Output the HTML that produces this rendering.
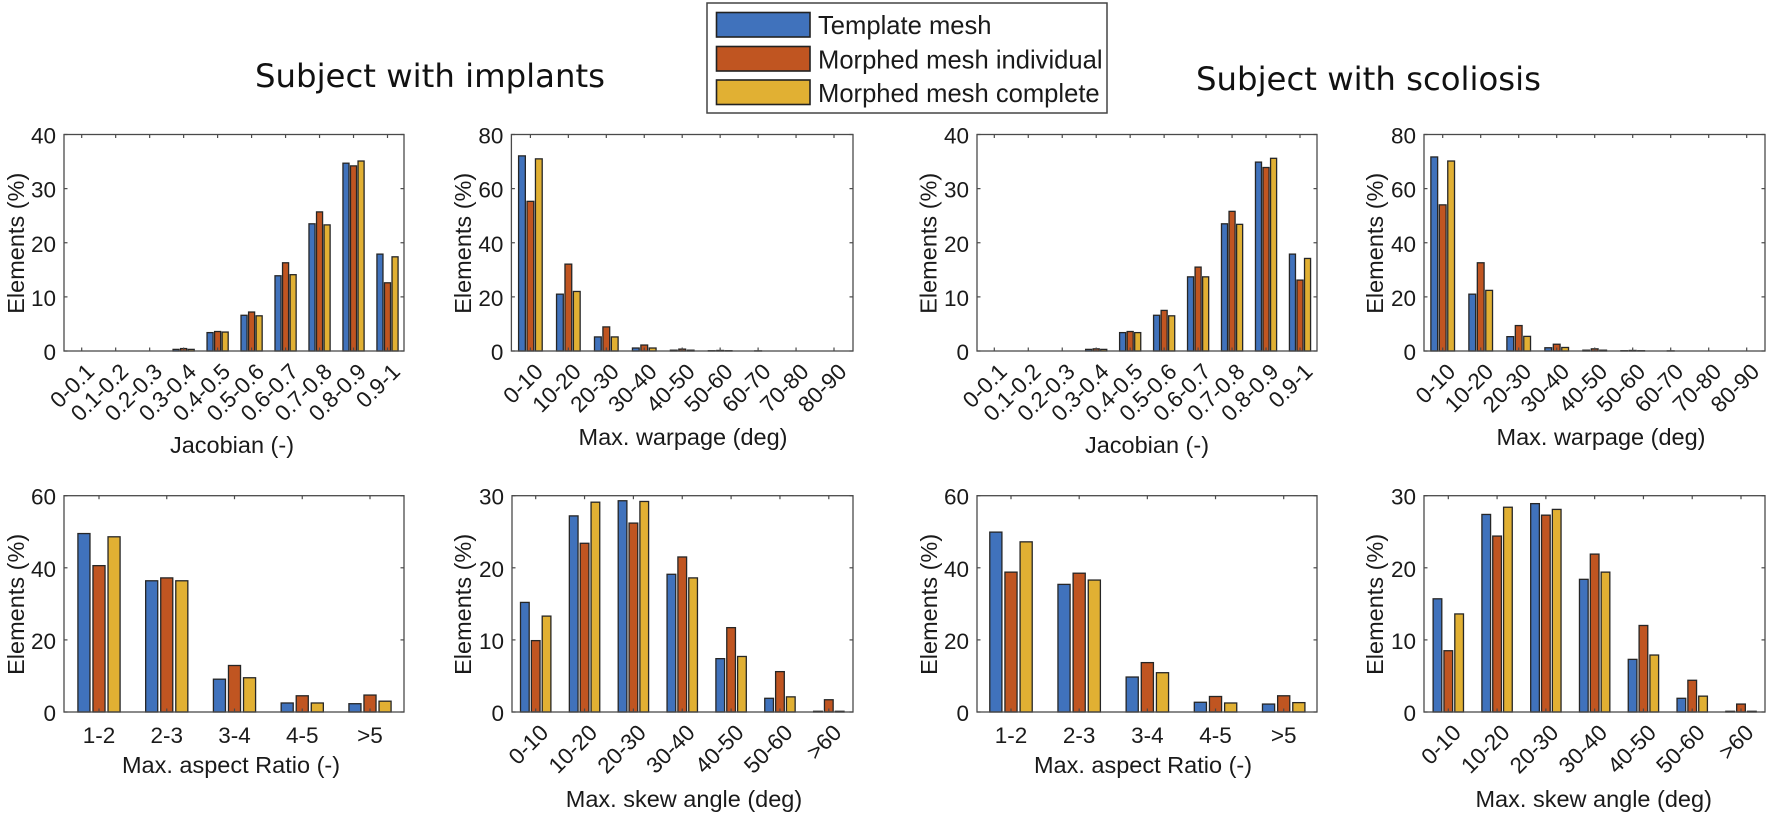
<!DOCTYPE html>
<html lang="en">
<head>
<meta charset="utf-8">
<title>Mesh quality histograms</title>
<style>
html,body{margin:0;padding:0;background:#fff}
svg{display:block;filter:blur(0.35px)}
text{font-family:"Liberation Sans",Arial,sans-serif;fill:#1a1a1a}
.title{font-family:"DejaVu Sans",sans-serif;fill:#111}
</style>
</head>
<body>
<svg id="chart" xmlns="http://www.w3.org/2000/svg" width="1772" height="815" viewBox="0 0 1772 815">
  <rect x="0" y="0" width="1772" height="815" fill="#fff"/>
  <text class="title" x="255" y="87" font-size="32" textLength="350" lengthAdjust="spacingAndGlyphs">Subject with implants</text>
  <text class="title" x="1196" y="90" font-size="32" textLength="345" lengthAdjust="spacingAndGlyphs">Subject with scoliosis</text>
  <g>
    <rect x="707" y="3" width="400" height="110" fill="#fff" stroke="#444" stroke-width="1.5"/>
    <rect x="716.5" y="12.5" width="93.5" height="24.5" fill="#4072BC" stroke="#222" stroke-width="1.6"/>
    <rect x="716.5" y="46.5" width="93.5" height="24.5" fill="#C05521" stroke="#222" stroke-width="1.6"/>
    <rect x="716.5" y="80" width="93.5" height="24.5" fill="#E1B033" stroke="#222" stroke-width="1.6"/>
    <text x="818" y="34" font-size="25.6">Template mesh</text>
    <text x="818" y="68.5" font-size="25.6">Morphed mesh individual</text>
    <text x="818" y="102" font-size="25.6">Morphed mesh complete</text>
  </g>
</svg>
<script>
var jacobianCategories = ['0-0.1','0.1-0.2','0.2-0.3','0.3-0.4','0.4-0.5','0.5-0.6','0.6-0.7','0.7-0.8','0.8-0.9','0.9-1'];
var warpageCategories = ['0-10','10-20','20-30','30-40','40-50','50-60','60-70','70-80','80-90'];
var aspectCategories = ['1-2','2-3','3-4','4-5','>5'];
var skewCategories = ['0-10','10-20','20-30','30-40','40-50','50-60','>60'];

var ticks40 = [0,10,20,30,40];
var ticks80 = [0,20,40,60,80];
var ticks60 = [0,20,40,60];
var ticks30 = [0,10,20,30];

var implantsJacobianTemplate = [0,0,0,0.3,3.4,6.6,13.9,23.5,34.7,17.9];
var implantsJacobianIndividual = [0,0,0,0.45,3.6,7.2,16.3,25.7,34.2,12.6];
var implantsJacobianComplete = [0,0,0,0.3,3.5,6.5,14.1,23.3,35.1,17.4];

var implantsWarpageTemplate = [72.1,21,5.2,1.1,0.3,0.1,0,0,0];
var implantsWarpageIndividual = [55.3,32.1,8.9,2.2,0.7,0.2,0.05,0,0];
var implantsWarpageComplete = [71,22,5.2,1.1,0.3,0.1,0,0,0];

var scoliosisJacobianTemplate = [0,0,0,0.3,3.4,6.6,13.7,23.5,34.9,17.9];
var scoliosisJacobianIndividual = [0,0,0,0.4,3.6,7.5,15.5,25.8,33.9,13.1];
var scoliosisJacobianComplete = [0,0,0,0.3,3.4,6.5,13.7,23.4,35.6,17.1];

var scoliosisWarpageTemplate = [71.7,21,5.3,1.2,0.3,0.1,0,0,0];
var scoliosisWarpageIndividual = [54,32.6,9.4,2.5,0.8,0.2,0.05,0,0];
var scoliosisWarpageComplete = [70.2,22.4,5.4,1.3,0.3,0.1,0,0,0];

var implantsAspectTemplate = [49.5,36.4,9.1,2.5,2.3];
var implantsAspectIndividual = [40.6,37.2,12.9,4.5,4.7];
var implantsAspectComplete = [48.6,36.4,9.5,2.5,3];

var implantsSkewTemplate = [15.2,27.2,29.3,19.1,7.4,1.9,0.1];
var implantsSkewIndividual = [9.9,23.4,26.2,21.5,11.7,5.6,1.7];
var implantsSkewComplete = [13.3,29.1,29.2,18.6,7.7,2.1,0.1];

var scoliosisAspectTemplate = [49.9,35.4,9.7,2.7,2.2];
var scoliosisAspectIndividual = [38.8,38.5,13.7,4.3,4.5];
var scoliosisAspectComplete = [47.2,36.6,10.9,2.5,2.6];

var scoliosisSkewTemplate = [15.7,27.4,28.9,18.4,7.3,1.9,0.1];
var scoliosisSkewIndividual = [8.5,24.4,27.3,21.9,12,4.4,1.1];
var scoliosisSkewComplete = [13.6,28.4,28.1,19.4,7.9,2.2,0.1];

var seriesColors = ['#4072BC','#C05521','#E1B033'];
var seriesNames = ['template','individual','complete'];

var NS = 'http://www.w3.org/2000/svg';
var root = document.getElementById('chart');

function make(parent, tag, attrs, txt) {
  var el = document.createElementNS(NS, tag);
  for (var k in attrs) { el.setAttribute(k, attrs[k]); }
  if (txt !== undefined) { el.textContent = txt; }
  parent.appendChild(el);
  return el;
}

function drawPanel(p) {
  var g = make(root, 'g', {});
  
  

  var n = p.categories.length;
  var maxY = p.yTicks[p.yTicks.length - 1];
  var step = (p.lastTick - p.firstTick) / (n - 1);
  function xScale(i) { return p.firstTick + i * step; }
  function yScale(v) { return p.bottom - (v / maxY) * (p.bottom - p.top); }

  var barW = step * 0.178;
  var offset = step * 0.2222;

  p.series.forEach(function (vals, s) {
    vals.forEach(function (v, i) {
      var y = yScale(v);
      var cx = xScale(i) + (s - 1) * offset;
      var bar = make(g, 'rect', {
        x: cx - barW / 2, y: y, width: barW, height: Math.max(p.bottom - y, 0),
        fill: seriesColors[s], stroke: '#262626', 'stroke-width': 1.3
      });
      
      
    });
  });

  var frame = make(g, 'rect', {
    x: p.left, y: p.top, width: p.right - p.left, height: p.bottom - p.top,
    fill: 'none', stroke: '#4a4a4a', 'stroke-width': 1.3
  });
  
  

  p.yTicks.forEach(function (t) {
    var y = yScale(t);
    var a = make(g, 'line', {x1: p.left, x2: p.left + 3.5, y1: y, y2: y, stroke: '#4a4a4a', 'stroke-width': 1.2});
    
    
    var b = make(g, 'line', {x1: p.right, x2: p.right - 3.5, y1: y, y2: y, stroke: '#4a4a4a', 'stroke-width': 1.2});
    
    
    var lab = make(g, 'text', {x: p.left - 8, y: y + 9, 'text-anchor': 'end', 'font-size': 22.5}, String(t));
    
    
  });

  p.categories.forEach(function (c, i) {
    var x = xScale(i);
    var a = make(g, 'line', {x1: x, x2: x, y1: p.bottom, y2: p.bottom - 3.5, stroke: '#4a4a4a', 'stroke-width': 1.2});
    
    
    var b = make(g, 'line', {x1: x, x2: x, y1: p.top, y2: p.top + 3.5, stroke: '#4a4a4a', 'stroke-width': 1.2});
    
    
    var lab;
    if (p.rotated) {
      var lx = x + 14, ly = p.bottom + 22;
      lab = make(g, 'text', {x: lx, y: ly, 'text-anchor': 'end', 'font-size': 22.5, transform: 'rotate(-45 ' + lx + ' ' + ly + ')'}, c);
    } else {
      lab = make(g, 'text', {x: x, y: p.bottom + 31, 'text-anchor': 'middle', 'font-size': 22.5}, c);
    }
    
    
  });

  var cy = (p.top + p.bottom) / 2 + 0.5;
  var yl = make(g, 'text', {
    x: p.yLabelX, y: cy, 'text-anchor': 'middle', 'font-size': 23.5,
    transform: 'rotate(-90 ' + p.yLabelX + ' ' + cy + ')'
  }, 'Elements (%)');
  
  

  var xl = make(g, 'text', {x: p.xLabelX, y: p.xLabelY, 'text-anchor': 'middle', 'font-size': 23.5}, p.xLabel);
  
  
}

drawPanel({name:'panel-implants-jacobian', left:64, right:404, top:134.5, bottom:351, firstTick:81.7, lastTick:387.5,
  categories:jacobianCategories, yTicks:ticks40, rotated:true, yLabelX:24, xLabel:'Jacobian (-)', xLabelX:232, xLabelY:453,
  series:[implantsJacobianTemplate, implantsJacobianIndividual, implantsJacobianComplete]});
drawPanel({name:'panel-implants-warpage', left:511.4, right:853, top:134.5, bottom:351, firstTick:530.4, lastTick:834,
  categories:warpageCategories, yTicks:ticks80, rotated:true, yLabelX:471, xLabel:'Max. warpage (deg)', xLabelX:683, xLabelY:445,
  series:[implantsWarpageTemplate, implantsWarpageIndividual, implantsWarpageComplete]});
drawPanel({name:'panel-scoliosis-jacobian', left:977, right:1317, top:134.5, bottom:351, firstTick:994.3, lastTick:1300,
  categories:jacobianCategories, yTicks:ticks40, rotated:true, yLabelX:936.5, xLabel:'Jacobian (-)', xLabelX:1147, xLabelY:453,
  series:[scoliosisJacobianTemplate, scoliosisJacobianIndividual, scoliosisJacobianComplete]});
drawPanel({name:'panel-scoliosis-warpage', left:1424, right:1765, top:134.5, bottom:351, firstTick:1442.7, lastTick:1746.7,
  categories:warpageCategories, yTicks:ticks80, rotated:true, yLabelX:1383, xLabel:'Max. warpage (deg)', xLabelX:1601, xLabelY:445,
  series:[scoliosisWarpageTemplate, scoliosisWarpageIndividual, scoliosisWarpageComplete]});
drawPanel({name:'panel-implants-aspect', left:64, right:404, top:495.7, bottom:712, firstTick:99, lastTick:370,
  categories:aspectCategories, yTicks:ticks60, rotated:false, yLabelX:24, xLabel:'Max. aspect Ratio (-)', xLabelX:231, xLabelY:773,
  series:[implantsAspectTemplate, implantsAspectIndividual, implantsAspectComplete]});
drawPanel({name:'panel-implants-skew', left:512, right:853, top:495.7, bottom:712, firstTick:535.7, lastTick:828.8,
  categories:skewCategories, yTicks:ticks30, rotated:true, yLabelX:471, xLabel:'Max. skew angle (deg)', xLabelX:684, xLabelY:807,
  series:[implantsSkewTemplate, implantsSkewIndividual, implantsSkewComplete]});
drawPanel({name:'panel-scoliosis-aspect', left:977, right:1317, top:495.7, bottom:712, firstTick:1011, lastTick:1283.7,
  categories:aspectCategories, yTicks:ticks60, rotated:false, yLabelX:937, xLabel:'Max. aspect Ratio (-)', xLabelX:1143, xLabelY:773,
  series:[scoliosisAspectTemplate, scoliosisAspectIndividual, scoliosisAspectComplete]});
drawPanel({name:'panel-scoliosis-skew', left:1424, right:1765, top:495.7, bottom:712, firstTick:1448.3, lastTick:1741,
  categories:skewCategories, yTicks:ticks30, rotated:true, yLabelX:1383, xLabel:'Max. skew angle (deg)', xLabelX:1593.7, xLabelY:807,
  series:[scoliosisSkewTemplate, scoliosisSkewIndividual, scoliosisSkewComplete]});
</script>
</body>
</html>
